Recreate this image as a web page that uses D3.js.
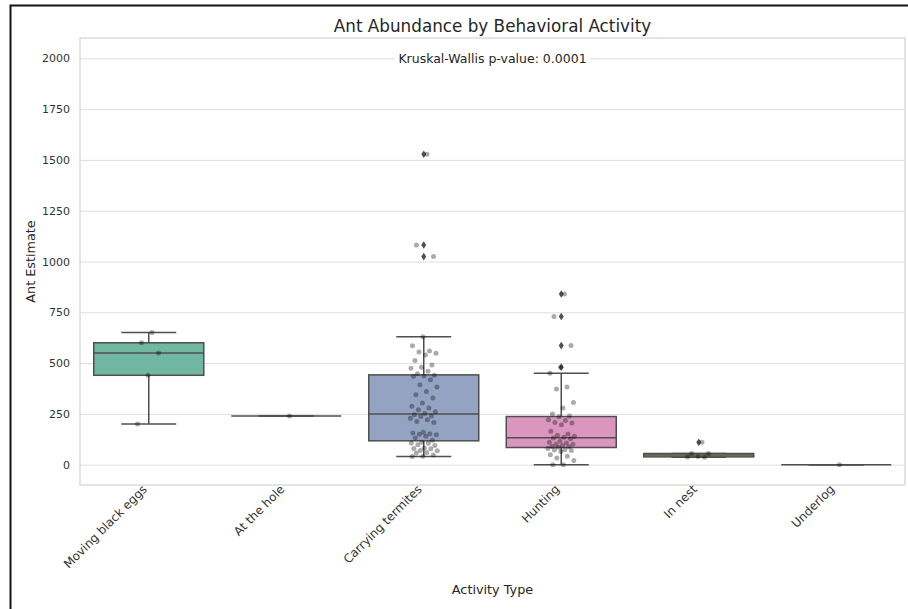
<!DOCTYPE html>
<html>
<head>
<meta charset="utf-8">
<script src="https://cdn.jsdelivr.net/npm/d3@7"></script>
<style>
  body { margin: 0; background: #fff; }
  svg { display: block; font-family: 'DejaVu Sans', sans-serif; }
</style>
</head>
<body>
<div id="chart"></div>
<script>
// chart values
const categories = ["Moving black eggs", "At the hole", "Carrying termites", "Hunting", "In nest", "Underlog"];
const movingEggs = [650, 600, 550, 440, 200];
const atHole = [240];
const carryingTermites = [1528, 1081, 1024, 630, 585, 560, 555, 549, 540, 513, 491, 480, 475, 460, 448,
  440, 437, 435, 418, 393, 382, 360, 344, 328, 303, 287, 279, 270, 260, 252,
  246, 240, 237, 229, 221, 213, 208, 160, 156, 152, 150, 147, 140, 131, 120,
  110, 107, 105, 98, 95, 82, 80, 78, 70, 68, 60, 57, 48, 41, 40];
const hunting = [840, 729, 586, 480, 450, 382, 372, 306, 279, 250, 240,
  236, 221, 218, 208, 205, 197, 164, 151, 145, 140, 135,
  131, 128, 115, 110, 107, 101, 100, 95, 90, 88, 86,
  80, 74, 72, 70, 65, 49, 41, 33, 20, 0, 0];
const inNest = [110, 55, 55, 40, 38, 36];
const underlog = [0];
const seriesValues = [movingEggs, atHole, carryingTermites, hunting, inNest, underlog];
const yTicks = [0, 250, 500, 750, 1000, 1250, 1500, 1750, 2000];
// Set2 palette, desaturated like seaborn boxplot
const boxColors = ["#72b7a1", "#e99675", "#95a3c3", "#db96c0", "#a2c864", "#e5c849"];

const chartTitle = "Ant Abundance by Behavioral Activity";
const noteText = "Kruskal-Wallis p-value: 0.0001";

const W = 908, H = 609;
const plotLeft = 80, plotRight = 905, plotTop = 38, plotBottom = 485;

const svg = d3.select('#chart').append('svg')
  .attr('width', W)
  .attr('height', H);

const xScale = d3.scaleBand()
  .domain(categories)
  .range([plotLeft, plotRight])
  .padding(0);

const yScale = d3.scaleLinear()
  .domain([-100, 2100])
  .range([plotBottom, plotTop]);

const boxW = xScale.bandwidth() * 0.8;
const edge = '#4f4f4f';

// horizontal grid lines
svg.append('g')
  .attr('class', 'grid')
  .attr('transform', `translate(${plotLeft},0)`)
  .call(d3.axisLeft(yScale).tickValues(yTicks).tickSize(-(plotRight - plotLeft)).tickFormat(''))
  .call(g => g.select('.domain').remove())
  .call(g => g.selectAll('.tick line').style('stroke', '#dedede').style('stroke-width', 1));

// frame
svg.append('rect')
  .attr('x', plotLeft)
  .attr('y', plotTop)
  .attr('width', plotRight - plotLeft)
  .attr('height', plotBottom - plotTop)
  .style('fill', 'none')
  .style('stroke', '#d6d6d6')
  .style('stroke-width', 1.3);

// y tick labels
svg.append('g')
  .attr('transform', `translate(${plotLeft},0)`)
  .call(d3.axisLeft(yScale).tickValues(yTicks).tickSize(0).tickPadding(10).tickFormat(d3.format('d')))
  .call(g => g.select('.domain').remove())
  .call(g => g.selectAll('text')
    .style('font-family', "'DejaVu Sans', sans-serif")
    .style('font-size', '11px')
    .style('fill', '#333'));

// x tick labels, rotated
svg.append('g')
  .selectAll('text')
  .data(categories)
  .enter()
  .append('text')
  .attr('transform', d => `translate(${xScale(d) + xScale.bandwidth() / 2 - 4},${plotBottom + 2}) rotate(-45)`)
  .attr('text-anchor', 'end')
  .attr('dy', '0.35em')
  .style('font-size', '12px')
  .style('fill', '#333')
  .text(d => d);

// box stats like matplotlib (linear quantiles, 1.5 IQR whiskers)
const stats = seriesValues.map((vals, i) => {
  const s = vals.slice().sort(d3.ascending);
  const q1 = d3.quantile(s, 0.25);
  const med = d3.quantile(s, 0.5);
  const q3 = d3.quantile(s, 0.75);
  const iqr = q3 - q1;
  const inside = s.filter(v => v >= q1 - 1.5 * iqr && v <= q3 + 1.5 * iqr);
  return {
    category: categories[i],
    color: boxColors[i],
    q1, med, q3,
    lo: d3.min(inside),
    hi: d3.max(inside),
    fliers: s.filter(v => v < q1 - 1.5 * iqr || v > q3 + 1.5 * iqr)
  };
});

const boxGroups = svg.append('g')
  .selectAll('g')
  .data(stats)
  .enter()
  .append('g')
  .attr('transform', d => `translate(${xScale(d.category) + xScale.bandwidth() / 2},0)`);

// whiskers
boxGroups.append('line')
  .attr('x1', 0).attr('x2', 0)
  .attr('y1', d => yScale(d.q3)).attr('y2', d => yScale(d.hi))
  .style('stroke', edge).style('stroke-width', 1.5);
boxGroups.append('line')
  .attr('x1', 0).attr('x2', 0)
  .attr('y1', d => yScale(d.q1)).attr('y2', d => yScale(d.lo))
  .style('stroke', edge).style('stroke-width', 1.5);
// caps
boxGroups.append('line')
  .attr('x1', -boxW / 4).attr('x2', boxW / 4)
  .attr('y1', d => yScale(d.hi)).attr('y2', d => yScale(d.hi))
  .style('stroke', edge).style('stroke-width', 1.5);
boxGroups.append('line')
  .attr('x1', -boxW / 4).attr('x2', boxW / 4)
  .attr('y1', d => yScale(d.lo)).attr('y2', d => yScale(d.lo))
  .style('stroke', edge).style('stroke-width', 1.5);

// boxes
boxGroups.append('rect')
  .attr('x', -boxW / 2)
  .attr('width', boxW)
  .attr('y', d => yScale(d.q3))
  .attr('height', d => yScale(d.q1) - yScale(d.q3))
  .style('fill', d => d.color)
  .style('stroke', edge)
  .style('stroke-width', 1.5);

// medians
boxGroups.append('line')
  .attr('x1', -boxW / 2).attr('x2', boxW / 2)
  .attr('y1', d => yScale(d.med)).attr('y2', d => yScale(d.med))
  .style('stroke', edge).style('stroke-width', 1.5);

// outliers as thin diamonds
boxGroups.selectAll('.flier')
  .data(d => d.fliers)
  .enter()
  .append('path')
  .attr('class', 'flier')
  .attr('d', 'M0,-3.8L2.5,0L0,3.8L-2.5,0Z')
  .attr('transform', v => `translate(0,${yScale(v)})`)
  .style('fill', edge);

// strip points with a fixed (non random) jitter
const jit = xScale.bandwidth() * 0.1;
boxGroups.selectAll('.pt')
  .data(d => d3.sort(seriesValues[categories.indexOf(d.category)], d3.descending))
  .enter()
  .append('circle')
  .attr('class', 'pt')
  .attr('cx', (v, i) => ((((i + 1) * 0.6180339887) % 1) * 2 - 1) * jit)
  .attr('cy', v => yScale(v))
  .attr('r', 2.5)
  .style('fill', '#000')
  .style('fill-opacity', 0.33);

// annotation with white box
const noteG = svg.append('g');
const note = noteG.append('text')
  .attr('x', (plotLeft + plotRight) / 2)
  .attr('y', yScale(2000) + 4.5)
  .attr('text-anchor', 'middle')
  .style('font-size', '12.5px')
  .style('fill', '#262626')
  .text(noteText);
const bb = note.node().getBBox();
noteG.insert('rect', 'text')
  .attr('x', bb.x - 3)
  .attr('y', bb.y - 1)
  .attr('width', bb.width + 6)
  .attr('height', bb.height + 2)
  .style('fill', '#fff');

// title and axis labels
svg.append('text')
  .attr('x', (plotLeft + plotRight) / 2)
  .attr('y', 32)
  .attr('text-anchor', 'middle')
  .style('font-size', '16.8px')
  .style('fill', '#262626')
  .text(chartTitle);

svg.append('text')
  .attr('x', (plotLeft + plotRight) / 2)
  .attr('y', 594)
  .attr('text-anchor', 'middle')
  .style('font-size', '12.8px')
  .style('fill', '#262626')
  .text('Activity Type');

svg.append('text')
  .attr('transform', `translate(35,${(plotTop + plotBottom) / 2}) rotate(-90)`)
  .attr('text-anchor', 'middle')
  .style('font-size', '12.8px')
  .style('fill', '#262626')
  .text('Ant Estimate');

// black border on the left and top of the screenshot
svg.append('path')
  .attr('d', `M10.5,${H}V5.5H${W}`)
  .style('fill', 'none')
  .style('stroke', '#111')
  .style('stroke-width', 2);
</script>
</body>
</html>
